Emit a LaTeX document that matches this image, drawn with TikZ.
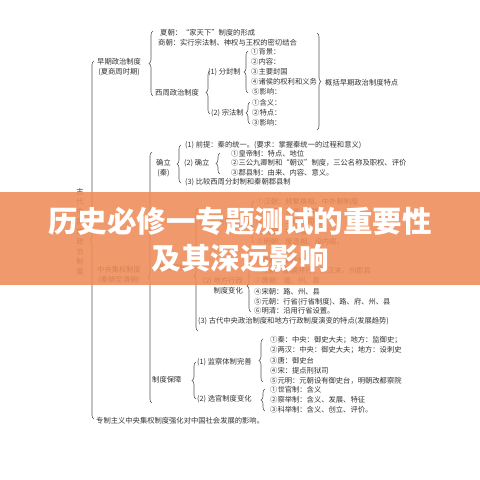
\documentclass[tikz,border=0pt]{standalone}
\usepackage{fontspec}
\setmainfont{Noto Sans CJK SC}
\usetikzlibrary{decorations.pathreplacing}
\definecolor{txtc}{HTML}{333333}
\definecolor{linec}{HTML}{555555}
\definecolor{bannerc}{RGB}{239,140,88}
\tikzset{
  txt/.style={anchor=west, inner sep=0pt, font=\fontsize{7.3}{10}\selectfont, text=txtc},
  brL/.style={draw=linec, line width=0.6pt, decorate, decoration={brace, amplitude=4pt}},
  title/.style={inner sep=0pt, font=\fontsize{29.5}{36}\selectfont\bfseries, text=white}
}
\begin{document}
\begin{tikzpicture}[x=1pt,y=-1pt]
\useasboundingbox (0,0) rectangle (480,480);
\fill[white] (0,0) rectangle (480,480);
% vertical label
\foreach \c [count=\i] in {古,代,中,国,的,政,治,制,度}
  \node[txt,anchor=center] (gu\i) at (80,182+10*\i) {\c};
% early period
\node[txt,align=center] (zao) at (97,67) {早期政治制度\\(夏商周时期)};
\node[txt] (xia) at (160,33) {夏朝：“家天下”制度的形成};
\node[txt] (shang) at (158,43) {商朝：实行宗法制、神权与王权的密切结合};
\node[txt] (xizhou) at (155,93) {西周政治制度};
\node[txt] (fenfeng) at (208,72) {(1) 分封制};
\node[txt] (f1) at (251,52) {①背景：};
\node[txt] (f2) at (251,62) {②内容：};
\node[txt] (f3) at (251,72) {③主要封国};
\node[txt] (f4) at (251,82) {④诸侯的权利和义务};
\node[txt] (f5) at (252,92) {⑤影响：};
\node[txt] (zongfa) at (211,113) {(2) 宗法制};
\node[txt] (z1) at (252,103) {①含义：};
\node[txt] (z2) at (252,113) {②特点：};
\node[txt] (z3) at (252,123) {③影响：};
\node[txt] (gaikuo) at (325,83) {概括早期政治制度特点};
% centralization
\node[txt,align=center] (zhongyang) at (97,275) {中央集权制度\\(秦朝至清朝)};
\node[txt,align=center] (queli) at (156,168) {确立\\(秦)};
\node[txt] (q1) at (185,145) {(1) 前提：秦的统一。(要求：掌握秦统一的过程和意义)};
\node[txt] (q2) at (184,163) {(2) 确立};
\node[txt] (q2a) at (231,154) {①皇帝制：特点、地位};
\node[txt] (q2b) at (231,163) {②三公九卿制和“朝议”制度，三公名称及职权、评价};
\node[txt] (q2c) at (231,173) {③郡县制：由来、内容、意义。};
\node[txt] (q3) at (185,182) {(3) 比较西周分封制和秦朝郡县制};
\node[txt] (fazhan) at (157,268) {发展演变};
\node[txt] (d1) at (199,222) {(1) 中央官制演变};
\node[txt] (d1a) at (256,202) {①汉朝：频繁换相、中外朝制度};
\node[txt] (d1b) at (256,212) {②唐朝：三省六部制};
\node[txt] (d1c) at (256,222) {③宋朝：二府三司制};
\node[txt] (d1d) at (256,232) {④元朝：中书省};
\node[txt] (d1e) at (256,242) {⑤明朝：废丞相，设内阁。};
\node[txt,anchor=east,align=right] (d2) at (243,286) {(2) 地方行政\\制度变化};
\node[txt] (d2a) at (254,261) {①秦朝：郡县制};
\node[txt] (d2b) at (254,271) {②汉朝：郡国并行，东汉末，州郡县};
\node[txt] (d2c) at (254,281) {③唐朝：道、州、县};
\node[txt] (d2d) at (254,292) {④宋朝：路、州、县};
\node[txt] (d2e) at (254,302) {⑤元朝：行省(行省制度)、路、府、州、县};
\node[txt] (d2f) at (254,311) {⑥明清：沿用行省设置。};
\node[txt] (d3) at (198,321) {(3) 古代中央政治制度和地方行政制度演变的特点(发展趋势)};
\node[txt] (baozhang) at (152,380) {制度保障};
\node[txt] (jc) at (197,362) {(1) 监察体制完善};
\node[txt] (jc1) at (270,340) {①秦：中央：御史大夫；地方：监御史；};
\node[txt] (jc2) at (270,350) {②两汉：中央：御史大夫；地方：设刺史};
\node[txt] (jc3) at (270,361) {③唐：御史台};
\node[txt] (jc4) at (270,371) {④宋：提点刑狱司};
\node[txt] (jc5) at (270,381) {⑤元明：元朝设有御史台，明朝改都察院};
\node[txt] (xg) at (197,399) {(2) 选官制度变化};
\node[txt] (xg1) at (270,390) {①世官制：含义};
\node[txt] (xg2) at (270,400) {②察举制：含义、发展、特征};
\node[txt] (xg3) at (270,410) {③科举制：含义、创立、评价。};
\node[txt] (impact) at (96,421) {专制主义中央集权制度强化对中国社会发展的影响。};
% braces
\draw[brL] (94,419) -- (94,61);
\draw[brL] (153,96) -- (153,31);
\draw[brL] (210,114) -- (210,71);
\draw[brL] (248,93) -- (248,51);
\draw[brL] (250,124) -- (250,102);
\draw[brL] (317,33) -- (317,130);
\draw[brL] (152,403) -- (152,152);
\draw[brL] (181,183) -- (181,145);
\draw[brL] (220,174) -- (220,153);
\draw[brL,decoration={aspect=0.45}] (198,331) -- (198,208);
\draw[brL] (254,243) -- (254,201);
\draw[brL] (251,312) -- (251,260);
\draw[brL] (196,399) -- (196,362);
\draw[brL] (263,382) -- (263,339);
\draw[brL] (265,411) -- (265,389);
% banner
\fill[bannerc,opacity=0.88] (0,192) rectangle (480,285);
\node[title] (t1) at (240,221) {历史必修一专题测试的重要性};
\node[title] (t2) at (240,258) {及其深远影响};
\end{tikzpicture}
\end{document}
